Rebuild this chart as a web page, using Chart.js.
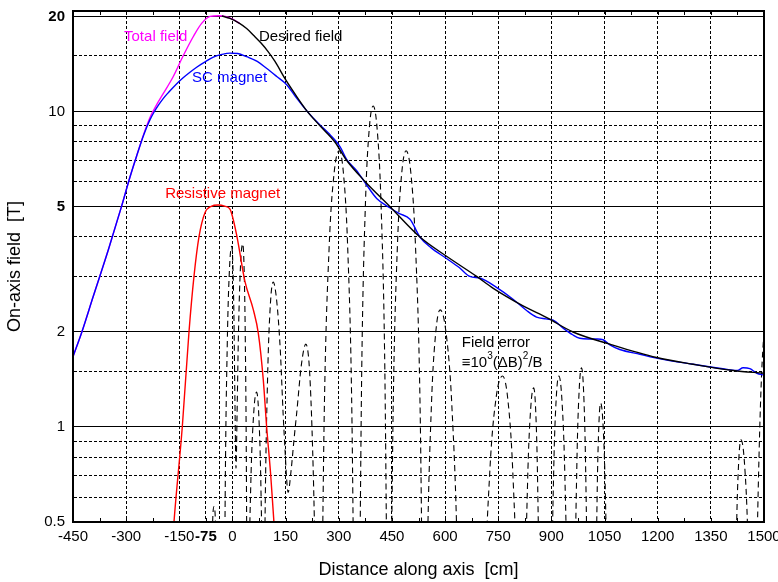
<!DOCTYPE html>
<html><head><meta charset="utf-8">
<script src="https://cdn.jsdelivr.net/npm/chart.js@4/dist/chart.umd.min.js"></script>
<style>html,body{margin:0;padding:0;background:#fff}</style>
</head><body>
<canvas id="c" width="778" height="582"></canvas>
<script>
// ---------- data ----------
const desiredX = [-30,-7,20,40,60,80,100,120,150,180,211,247,289,322,374,444,529,600,689,736,820,887,961,1065,1197,1300,1413,1500];
const desiredY = [20.05,19.7,19.0,18.3,17.4,16.5,15.5,14.4,12.6,11.2,10.0,9.0,8.0,7.0,6.0,5.0,4.0,3.5,3.0,2.75,2.42,2.22,2.0,1.83,1.66,1.58,1.51,1.48];

const totalX = [-450,-425,-393,-350,-313,-290,-270,-250,-233,-215,-195,-167,-139,-110,-87,-63,-40,-20,0,20];
const totalY = [1.67,2.0,2.59,3.65,5.0,6.15,7.25,8.5,9.55,10.45,11.4,12.9,15.0,17.3,19.0,20.0,20.1,20.0,19.6,19.0];

const scX = [-450,-425,-393,-350,-313,-290,-270,-250,-233,-220,-208,-195,-180,-160,-140,-120,-101,-75,-54,-30,-7,15,40,70,96,125,153,180,211,247,270,303,322,350,374,407,444,470,501,529,560,604,640,670,700,745,790,830,858,885,905,935,960,980,1005,1030,1046,1065,1093,1150,1200,1300,1400,1425,1441,1460,1480,1500];
const scY = [1.67,2.0,2.59,3.65,5.0,6.15,7.25,8.45,9.4,10.0,10.5,11.0,11.5,12.15,12.75,13.3,13.8,14.4,14.85,15.15,15.3,15.25,14.9,14.4,13.7,12.9,12.15,11.05,10.0,9.05,8.55,7.75,7.05,6.5,5.95,5.3,4.95,4.75,4.55,4.0,3.7,3.42,3.2,3.0,2.96,2.77,2.55,2.34,2.23,2.2,2.18,2.05,1.96,1.91,1.9,1.9,1.89,1.82,1.76,1.7,1.65,1.58,1.52,1.51,1.54,1.53,1.48,1.46];

const resistiveX = [-172,-165,-141.6,-122.7,-108.6,-94.5,-77.6,-60,-40,-20,-7,12,35,59,73,87,96.5,107.7,117,125];
const resistiveY = [0.38,0.5,1.0,2.0,3.0,4.0,4.77,5.0,5.05,5.0,4.9,4.05,2.9,2.35,1.98,1.41,1.0,0.71,0.5,0.38];

// field error humps, separated by null (gaps)
const errorX = [
 -60,-56,-52,-48,-44, null,
 -24.5,-20.8,-14.5,-8.3,-2,1,4,7,10,13,17,23,29,32.6,36.2,39.8,42, null,
 38.3,43.3,51.5,59.8,68,74.1,80.3,86.4,90, null,
 86.5,91.2,99.2,107.1,115,125,135,143,149,153,157,165,174,181,195,207,216,223,229,233, null,
 250.6,259,273,287,301,313,325,337,344.2, null,
 358.3,364.8,375.5,386.3,397,408,419,430,436.6, null,
 446,453.3,465.5,477.8,490,503.3,516.5,529.8,537.7, null,
 542,549.3,561.5,573.8,586,602.5,619,635.5,645.4, null,
 697.6,708.4,726.3,744.1,762,776.5,791,805.5,814.2, null,
 819,824.1,832.8,841.4,850,855.6,861.2,866.8,870.2, null,
 894.9,899.3,906.5,913.8,921,929.3,937.7,946,951, null,
 961.6,965.5,972,978.5,985,990.7,996.4,1002.1,1005.5, null,
 1021,1024,1029,1034,1039,1045.8,1052.6,1059.4,1063.5, null,
 1412,1415.8,1422.2,1428.6,1435,1444.6,1454.2,1463.8,1469.6, null,
 1472,1476,1481,1487,1493,1500,1506
];
const errorY = [
 0.3,0.5,0.56,0.5,0.3, null,
 0.09,0.55,1.87,3.19,3.74,3.3,2.3,1.2,0.74,1.1,2.0,3.3,3.8,3.25,1.9,0.56,0.09, null,
 0.031,0.188,0.645,1.10,1.29,1.10,0.645,0.188,0.031, null,
 0.069,0.42,1.44,2.46,2.88,2.5,1.75,1.1,0.82,0.68,0.62,0.72,0.92,1.1,1.59,1.83,1.6,1.1,0.65,0.4, null,
 0.18,1.1,3.75,6.4,7.5,6.4,3.75,1.1,0.18, null,
 0.25,1.52,5.2,8.88,10.4,8.88,5.2,1.52,0.25, null,
 0.18,1.1,3.75,6.4,7.5,6.4,3.75,1.1,0.18, null,
 0.056,0.343,1.175,2.0,2.35,2.0,1.175,0.343,0.056, null,
 0.035,0.212,0.725,1.24,1.45,1.24,0.725,0.212,0.035, null,
 0.032,0.194,0.665,1.136,1.33,1.136,0.665,0.194,0.032, null,
 0.035,0.212,0.725,1.24,1.45,1.24,0.725,0.212,0.035, null,
 0.037,0.225,0.77,1.315,1.54,1.315,0.77,0.225,0.037, null,
 0.029,0.174,0.595,1.016,1.19,1.016,0.595,0.174,0.029, null,
 0.022,0.133,0.455,0.777,0.91,0.777,0.455,0.133,0.022, null,
 0.05,0.2,0.45,0.9,1.45,2.0,2.4
];

// ticks
const xTickValues = [-450,-300,-150,-75,-37.5,0,150,300,450,600,750,900,1050,1200,1350,1500];
const xTickLabels = ['-450','-300','-150','-75','','0','150','300','450','600','750','900','1050','1200','1350','1500'];
const xBoldTicks = [-75];
const xMinorTicks = [-450,-375,-300,-225,-150,-75,0,75,150,225,300,375,450,525,600,675,750,825,900,975,1050,1125,1200,1275,1350,1425,1500];
const yTickValues = [0.5,0.6,0.7,0.8,0.9,1,1.5,2,3,4,5,6,7,8,9,10,15,20];
const yTickLabels = ['0.5','','','','','1','','2','','','5','','','','','10','','20'];
const ySolidTicks = [0.5,1,2,5,10,20];
const yBoldTicks = [5,20];

// text labels inside the plot (data coordinates)
const notes = [
  {text:'Total field', x:-306, y:17.2, color:'#ff00ff'},
  {text:'Desired field', x:75, y:17.2, color:'#000000'},
  {text:'SC magnet', x:-114, y:12.8, color:'#0000ff'},
  {text:'Resistive magnet', x:-190, y:5.46, color:'#ff0000'},
  {text:'Field error', x:647, y:1.85, color:'#000000'}
];

const FONT = '"Liberation Sans", Arial, Helvetica, sans-serif';
const zip = (xs, ys) => xs.map((x, i) => ({x: x === null ? NaN : x, y: ys[i]}));

const framePlugin = {
  id: 'frame',
  afterDraw(chart) {
    const {ctx, chartArea: a, scales: {x, y}} = chart;
    ctx.save();
    ctx.strokeStyle = '#000'; ctx.lineWidth = 1;
    xMinorTicks.forEach(v => {
      const px = Math.round(x.getPixelForValue(v)) + 0.5;
      ctx.beginPath();
      ctx.moveTo(px, a.bottom); ctx.lineTo(px, a.bottom - 4);
      ctx.moveTo(px, a.top); ctx.lineTo(px, a.top + 4);
      ctx.stroke();
    });
    ctx.lineWidth = 2;
    ctx.strokeRect(a.left, a.top, a.right - a.left, a.bottom - a.top);
    ctx.font = '15px ' + FONT;
    ctx.textBaseline = 'middle';
    ctx.textAlign = 'left';
    notes.forEach(n => {
      ctx.fillStyle = n.color;
      ctx.fillText(n.text, x.getPixelForValue(n.x), y.getPixelForValue(n.y));
    });
    let px = x.getPixelForValue(647), py = y.getPixelForValue(1.6);
    ctx.fillStyle = '#000';
    const parts = [['\u226110', false], ['3', true], ['(\u0394B)', false], ['2', true], ['/B', false]];
    parts.forEach(([t, sup]) => {
      if (sup) { ctx.font = '10px ' + FONT; ctx.fillText(t, px, py - 6); }
      else { ctx.font = '15px ' + FONT; ctx.fillText(t, px, py); }
      px += ctx.measureText(t).width;
    });
    ctx.restore();
  }
};

new Chart(document.getElementById('c'), {
  type: 'line',
  data: {
    datasets: [
      {label:'Resistive magnet', data: zip(resistiveX, resistiveY), borderColor:'#ff0000', borderWidth:1.4, order:1},
      {label:'Desired field', data: zip(desiredX, desiredY), borderColor:'#000000', borderWidth:1.4, order:2},
      {label:'SC magnet', data: zip(scX, scY), borderColor:'#0000ff', borderWidth:1.4, order:3},
      {label:'Total field', data: zip(totalX, totalY), borderColor:'#ff00ff', borderWidth:1.4, order:4},
      {label:'Field error', data: zip(errorX, errorY), borderColor:'#000000', borderWidth:1.1, borderDash:[6,4], order:5, spanGaps:false}
    ]
  },
  options: {
    responsive: false,
    animation: false,
    layout: {padding: {top: 11, right: 14, left: 0, bottom: 0}},
    elements: {point: {radius: 0}, line: {cubicInterpolationMode: 'monotone', fill: false}},
    plugins: {legend: {display: false}, tooltip: {enabled: false}},
    scales: {
      x: {
        type: 'linear', min: -450, max: 1500,
        afterBuildTicks: s => { s.ticks = xTickValues.map(v => ({value: v})); },
        afterFit: s => { s.height = 60; s.paddingLeft = 0; s.paddingRight = 0; },
        ticks: {
          autoSkip: false, maxRotation: 0, minRotation: 0, padding: 6, color: '#000',
          callback: v => { const i = xTickValues.indexOf(v); return i < 0 ? '' : xTickLabels[i]; },
          font: c => ({family: FONT, size: 15, weight: (c.tick && xBoldTicks.includes(c.tick.value)) ? 'bold' : 'normal'})
        },
        grid: {color: '#000', lineWidth: 1, drawTicks: false},
        border: {display: true, color: '#000', width: 2, dash: c => (c.tick ? [3, 2] : [])},
        title: {display: true, text: 'Distance along axis  [cm]', color: '#000', font: {family: FONT, size: 18}, padding: {top: 0, bottom: 1}}
      },
      y: {
        type: 'logarithmic', min: 0.5, max: 20.8,
        afterBuildTicks: s => { s.ticks = yTickValues.map(v => ({value: v})); },
        afterFit: s => { s.width = 73; s.paddingTop = 0; s.paddingBottom = 0; },
        ticks: {
          autoSkip: false, padding: 8, color: '#000',
          callback: v => { const i = yTickValues.indexOf(v); return i < 0 ? '' : yTickLabels[i]; },
          font: c => ({family: FONT, size: 15, weight: (c.tick && yBoldTicks.includes(c.tick.value)) ? 'bold' : 'normal'})
        },
        grid: {color: '#000', lineWidth: 1, drawTicks: false},
        border: {display: true, color: '#000', width: 2, dash: c => (c.tick && !ySolidTicks.includes(c.tick.value) ? [3, 2] : [])},
        title: {display: true, text: 'On-axis field  [T]', color: '#000', font: {family: FONT, size: 18}, padding: {top: 4, bottom: 0}}
      }
    }
  },
  plugins: [framePlugin]
});
</script>
</body></html>
